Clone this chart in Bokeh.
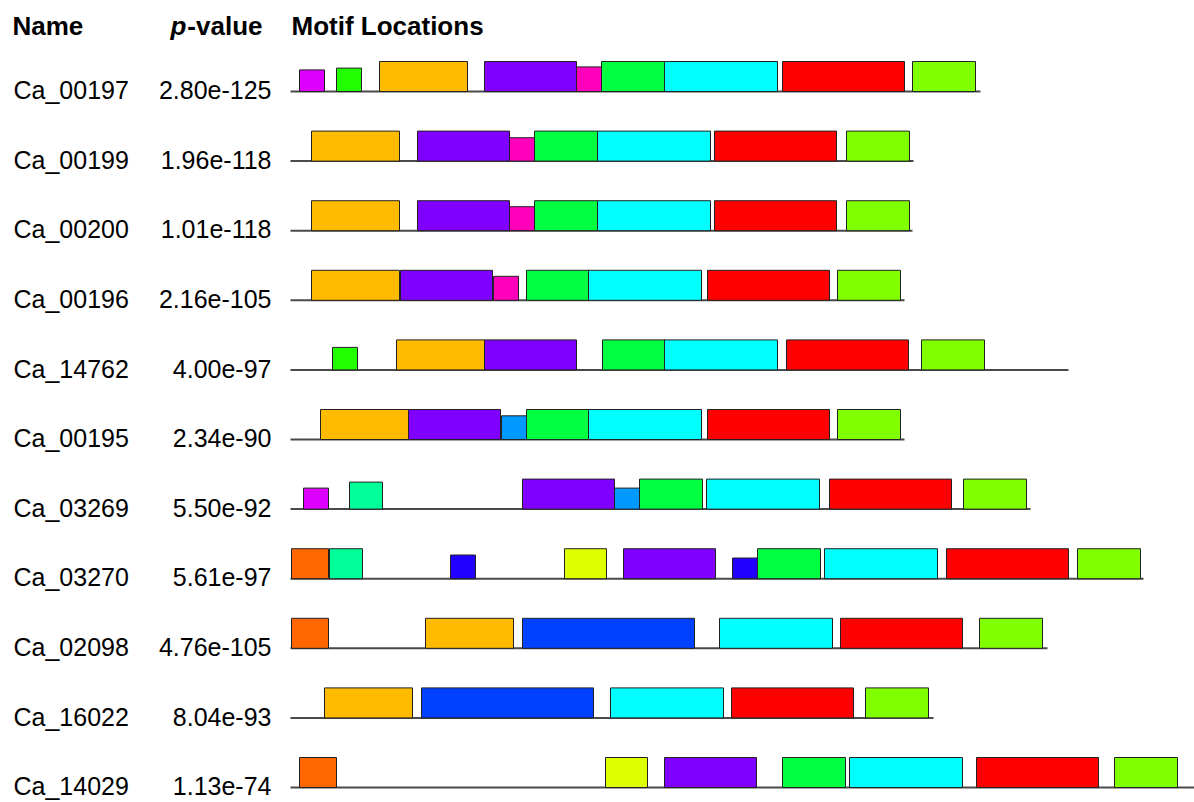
from bokeh.plotting import figure
from bokeh.models import ColumnDataSource, Range1d
from bokeh.core.properties import value
from bokeh.embed import file_html
from bokeh.resources import INLINE

# Sequences, their best combined p-values and lengths (residues)
names = ["Ca_00197", "Ca_00199", "Ca_00200", "Ca_00196", "Ca_14762", "Ca_00195",
         "Ca_03269", "Ca_03270", "Ca_02098", "Ca_16022", "Ca_14029"]
pvalues = ["2.80e-125", "1.96e-118", "1.01e-118", "2.16e-105", "4.00e-97", "2.34e-90",
           "5.50e-92", "5.61e-97", "4.76e-105", "8.04e-93", "1.13e-74"]
seq_lengths = [690, 623, 622, 614, 778, 614, 740, 853, 757, 643, 920]

# Motif widths (residues) and colours
motif_widths = {
    "orange": 88, "purple": 92, "pink": 25, "green": 63, "cyan": 113, "red": 122,
    "lime": 63, "magenta": 25, "leaf": 25, "sky": 25, "teal": 33, "rust": 37,
    "indigo": 25, "yellow": 42, "blue": 172,
}
motif_colors = {
    "orange": "#ffbb00", "purple": "#8000ff", "pink": "#ff00bb", "green": "#00ff40",
    "cyan": "#00ffff", "red": "#ff0000", "lime": "#80ff00", "magenta": "#dd00ff",
    "leaf": "#22ff00", "sky": "#0099ff", "teal": "#00ff99", "rust": "#ff6600",
    "indigo": "#2200ff", "yellow": "#ddff00", "blue": "#0040ff",
}

# Motif sites per sequence: motif, start position, relative site strength
site_motifs = [
    ["magenta", "leaf", "orange", "purple", "pink", "green", "cyan", "red", "lime"],
    ["orange", "purple", "pink", "green", "cyan", "red", "lime"],
    ["orange", "purple", "pink", "green", "cyan", "red", "lime"],
    ["orange", "purple", "pink", "green", "cyan", "red", "lime"],
    ["leaf", "orange", "purple", "green", "cyan", "red", "lime"],
    ["orange", "purple", "sky", "green", "cyan", "red", "lime"],
    ["magenta", "teal", "purple", "sky", "green", "cyan", "red", "lime"],
    ["rust", "teal", "indigo", "yellow", "purple", "indigo", "green", "cyan", "red", "lime"],
    ["rust", "orange", "blue", "cyan", "red", "lime"],
    ["orange", "blue", "cyan", "red", "lime"],
    ["rust", "yellow", "purple", "green", "cyan", "red", "lime"],
]
site_starts = [
    [9, 46, 89, 194, 286, 311, 374, 492, 622],
    [21, 127, 219, 244, 307, 424, 556],
    [21, 127, 219, 244, 307, 424, 556],
    [21, 110, 203, 236, 298, 417, 547],
    [42, 106, 194, 312, 374, 496, 631],
    [30, 118, 211, 236, 298, 417, 547],
    [13, 59, 232, 324, 349, 416, 539, 673],
    [1, 39, 160, 274, 333, 442, 467, 534, 656, 787],
    [1, 135, 232, 429, 550, 689],
    [34, 131, 320, 441, 575],
    [9, 315, 374, 492, 559, 686, 824],
]
site_heights = [
    [0.72, 0.78, 1, 1, 0.82, 1, 1, 1, 1],
    [1, 1, 0.78, 1, 1, 1, 1],
    [1, 1, 0.80, 1, 1, 1, 1],
    [1, 1, 0.80, 1, 1, 1, 1],
    [0.75, 1, 1, 1, 1, 1, 1],
    [1, 1, 0.79, 1, 1, 1, 1],
    [0.70, 0.90, 1, 0.70, 1, 1, 1, 1],
    [1, 1, 0.79, 1, 1, 0.69, 1, 1, 1, 1],
    [1, 1, 1, 1, 1, 1],
    [1, 1, 1, 1, 1],
    [1, 1, 1, 1, 1, 1, 1],
]

FONT = value("Liberation Sans")
BOX_H = 0.431          # full box height, in row units
rows = list(range(len(names)))

left, right, bottom, top, fill = [], [], [], [], []
for r in rows:
    for m, s, h in zip(site_motifs[r], site_starts[r], site_heights[r]):
        left.append(s)
        right.append(s + motif_widths[m])
        bottom.append(r)
        top.append(r - BOX_H * h)
        fill.append(motif_colors[m])
boxes = ColumnDataSource(dict(left=left, right=right, bottom=bottom, top=top, fill=fill))

lines = ColumnDataSource(dict(x0=[0] * len(rows), x1=seq_lengths, y=rows))
labels = ColumnDataSource(dict(y=[r - 0.02 for r in rows], name=names, pv=pvalues))

p = figure(width=1194, height=802, x_range=Range1d(-290, 904),
           y_range=Range1d(10.2155, -1.3075), output_backend="svg",
           toolbar_location=None, min_border=0, outline_line_color=None,
           x_axis_location=None, y_axis_location=None)
p.grid.visible = False
p.background_fill_color = "white"

p.segment(x0="x0", x1="x1", y0="y", y1="y", source=lines,
          line_color="#4a4a4a", line_width=2)
p.quad(left="left", right="right", bottom="bottom", top="top", source=boxes,
       fill_color="fill", line_color="#222222", line_width=1)

p.text(x=-277, y="y", text="name", source=labels, text_font=FONT,
       text_font_size="25px", text_color="black", text_baseline="alphabetic",
       text_align="left")
p.text(x=-19, y="y", text="pv", source=labels, text_font=FONT,
       text_font_size="25px", text_color="black", text_baseline="alphabetic",
       text_align="right")

HEAD_Y = -0.934
p.text(x=[-278], y=[HEAD_Y], text=["Name"], text_font=FONT, text_font_size="26px",
       text_font_style="bold", text_baseline="alphabetic")
p.text(x=[-120], y=[HEAD_Y], text=["p"], text_font=FONT, text_font_size="26px",
       text_font_style="bold italic", text_baseline="alphabetic")
p.text(x=[-28], y=[HEAD_Y], text=["-value"], text_font=FONT, text_font_size="26px",
       text_font_style="bold", text_baseline="alphabetic", text_align="right")
p.text(x=[1], y=[HEAD_Y], text=["Motif Locations"], text_font=FONT,
       text_font_size="26px", text_font_style="bold", text_baseline="alphabetic")

open("out.html", "w").write(file_html(p, INLINE))
